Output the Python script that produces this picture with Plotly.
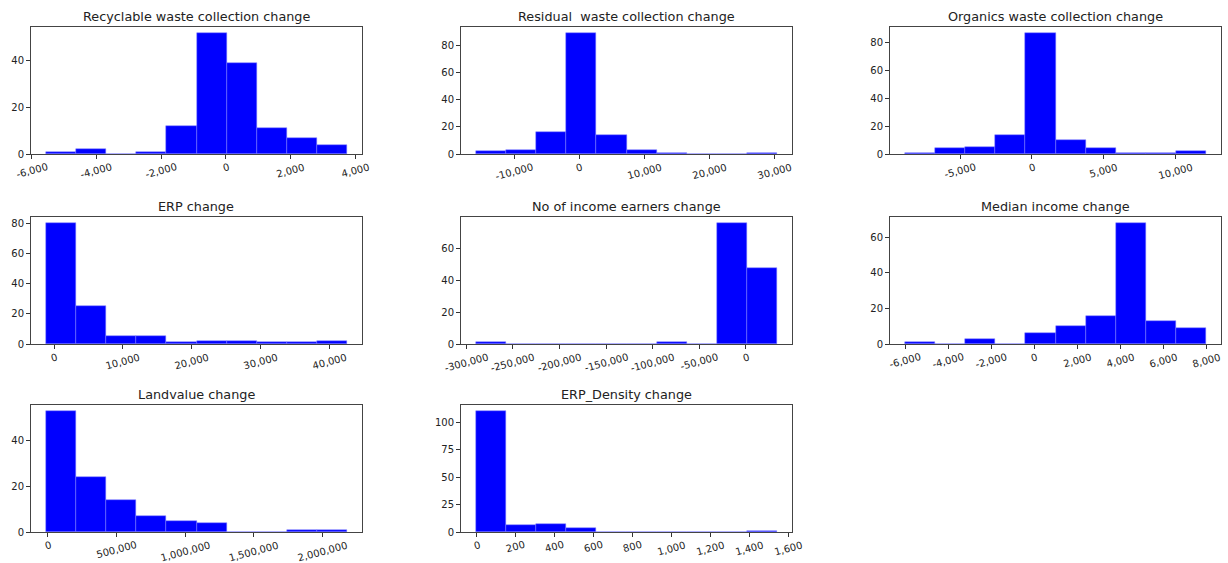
import plotly.graph_objects as go

titles = [
    "Recyclable waste collection change",
    "Residual  waste collection change",
    "Organics waste collection change",
    "ERP change",
    "No of income earners change",
    "Median income change",
    "Landvalue change",
    "ERP_Density change",
]

recyclable_edges = [-5557, -4627, -3697, -2767, -1837, -907, 23, 953, 1883, 2813, 3743]
recyclable_counts = [1, 2, 0, 1, 12, 52, 39, 11, 7, 4]

residual_edges = [-15938, -11300, -6663, -2025, 2612, 7250, 11887, 16525, 21162, 25800, 30437]
residual_counts = [2, 3, 16, 89, 14, 3, 1, 0, 0, 1]

organics_edges = [-8858, -6758, -4657, -2557, -457, 1644, 3744, 5845, 7945, 10045, 12145]
organics_counts = [1, 4, 5, 14, 87, 10, 4, 1, 1, 2]

erp_edges = [-1162, 3206, 7574, 11942, 16310, 20678, 25046, 29414, 33782, 38150, 42518]
erp_counts = [80, 25, 5, 5, 1, 2, 2, 1, 1, 2]

earners_edges = [-289550, -257266, -224982, -192698, -160414, -128130, -95846, -63562, -31278, 1006, 33290]
earners_counts = [1, 0, 0, 0, 0, 0, 1, 0, 76, 48]

median_edges = [-6000, -4603, -3206, -1809, -412, 985, 2382, 3779, 5176, 6573, 7970]
median_counts = [1, 0, 3, 0, 6, 10, 16, 68, 13, 9]

landvalue_edges = [-12136, 206796, 425728, 644660, 863592, 1082524, 1301456, 1520388, 1739320, 1958252, 2177184]
landvalue_counts = [53, 24, 14, 7, 5, 4, 0, 0, 1, 1]

density_edges = [-3, 151, 306, 460, 615, 769, 924, 1078, 1233, 1387, 1542]
density_counts = [110, 6, 7, 4, 0, 0, 0, 0, 0, 1]

x_ticks = [
    [-6000, -4000, -2000, 0, 2000, 4000],
    [-10000, 0, 10000, 20000, 30000],
    [-5000, 0, 5000, 10000],
    [0, 10000, 20000, 30000, 40000],
    [-300000, -250000, -200000, -150000, -100000, -50000, 0, 50000],
    [-6000, -4000, -2000, 0, 2000, 4000, 6000, 8000],
    [0, 500000, 1000000, 1500000, 2000000],
    [0, 200, 400, 600, 800, 1000, 1200, 1400, 1600],
]
y_ticks = [
    [0, 20, 40],
    [0, 20, 40, 60, 80],
    [0, 20, 40, 60, 80],
    [0, 20, 40, 60, 80],
    [0, 20, 40, 60],
    [0, 20, 40, 60],
    [0, 20, 40],
    [0, 25, 50, 75, 100],
]

edges_all = [recyclable_edges, residual_edges, organics_edges, erp_edges,
             earners_edges, median_edges, landvalue_edges, density_edges]
counts_all = [recyclable_counts, residual_counts, organics_counts, erp_counts,
              earners_counts, median_counts, landvalue_counts, density_counts]

W, H = 1228, 563
col_px = [(31, 362), (461, 792), (890, 1221)]
row_px = [(27, 154), (217, 344), (405, 532)]
TXT = "#222222"

fig = go.Figure()
layout = dict(
    width=W, height=H,
    margin=dict(l=0, r=0, t=0, b=0),
    paper_bgcolor="white", plot_bgcolor="white",
    showlegend=False,
    font=dict(family="DejaVu Sans", size=10, color=TXT),
    bargap=0,
)
annotations = []

for i, (edges, counts) in enumerate(zip(edges_all, counts_all)):
    r, c = divmod(i, 3)
    idx = "" if i == 0 else str(i + 1)
    xa, ya = "x" + idx, "y" + idx
    centers = [(edges[k] + edges[k + 1]) / 2 for k in range(len(counts))]
    widths = [edges[k + 1] - edges[k] for k in range(len(counts))]
    fig.add_trace(go.Bar(
        x=centers, y=counts, width=widths,
        marker=dict(color="#0000ff", line=dict(width=0.5, color="#7f7fff")),
        xaxis=xa, yaxis=ya, hoverinfo="x+y",
    ))
    x0, x1 = col_px[c]
    y0, y1 = row_px[r]
    span = edges[-1] - edges[0]
    xr = [edges[0] - 0.05 * span, edges[-1] + 0.05 * span]
    yr = [0, max(counts) * 1.05]
    layout["xaxis" + idx] = dict(
        domain=[x0 / W, x1 / W], anchor=ya, range=xr,
        tickvals=x_ticks[i], showticklabels=False, automargin=False,
        ticks="outside", ticklen=4, tickcolor="#333", tickwidth=1,
        showline=True, linecolor="#444", linewidth=1, mirror=True,
        showgrid=False, zeroline=False, fixedrange=True,
    )
    layout["yaxis" + idx] = dict(
        domain=[1 - y1 / H, 1 - y0 / H], anchor=xa, range=yr,
        tickvals=y_ticks[i], automargin=False,
        ticks="outside", ticklen=4, tickcolor="#333", tickwidth=1,
        showline=True, linecolor="#444", linewidth=1, mirror=True,
        showgrid=False, zeroline=False, fixedrange=True,
        tickfont=dict(size=10, color=TXT),
    )
    for v in x_ticks[i]:
        annotations.append(dict(
            text=f"{v:,}", xref=xa, yref="paper",
            x=v, y=1 - (y1 + 6) / H,
            xanchor="center", yanchor="top", textangle=-15,
            showarrow=False, borderpad=0,
            font=dict(family="DejaVu Sans", size=10, color=TXT),
        ))
    annotations.append(dict(
        text=titles[i], xref="paper", yref="paper",
        x=(x0 + x1) / 2 / W, y=1 - (y0 - 2) / H,
        xanchor="center", yanchor="bottom", showarrow=False, borderpad=0,
        font=dict(family="DejaVu Sans", size=12.8, color=TXT),
    ))

layout["annotations"] = annotations
fig.update_layout(**layout)
fig.write_html("out.html")
